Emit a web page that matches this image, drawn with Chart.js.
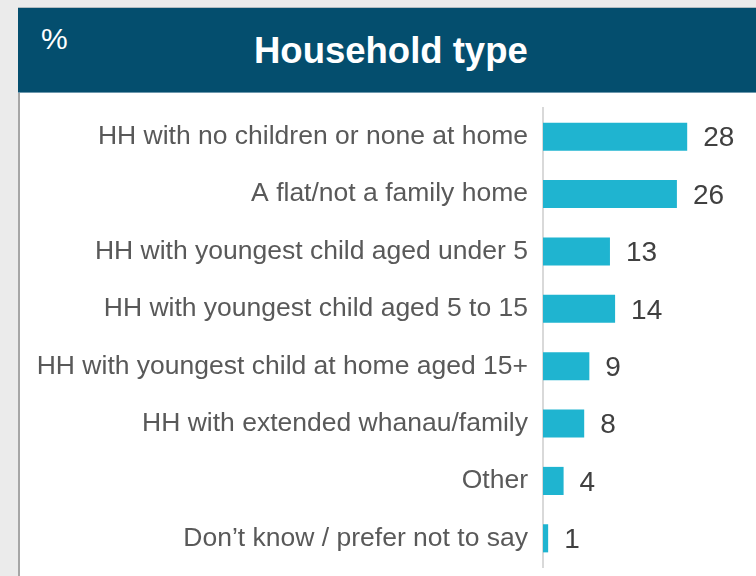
<!DOCTYPE html>
<html>
<head>
<meta charset="utf-8">
<script src="https://cdn.jsdelivr.net/npm/chart.js@4.4.1/dist/chart.umd.min.js"></script>
<style>
    html, body { margin: 0; padding: 0; }
    body {
        width: 756px; height: 576px; overflow: hidden;
        background: #ebebeb; position: relative;
        font-family: "Liberation Sans", Arial, sans-serif;
    }
    .header {
        position: absolute; left: 18px; top: 7px; width: 738px; height: 84px;
        background: #044e6e;
        border-top: 1px solid #b3bcc1;
        border-bottom: 1px solid #6d98ad;
    }
    .pct {
        position: absolute; left: 23px; top: 16px;
        font-size: 30px; line-height: 30px; color: #fff;
    }
    .title {
        position: absolute; left: 236px; top: 25px;
        font-size: 36.5px; line-height: 36px; font-weight: bold; color: #fff;
    }
    .panel {
        position: absolute; left: 18px; top: 93px; width: 738px; height: 483px;
        background: #fff; border-left: 2px solid #a6a6a6; box-sizing: border-box;
    }
    .chart-box { position: absolute; left: 20px; top: 93px; width: 736px; height: 483px; }
</style>
</head>
<body>
<div class="header">
    <span class="pct">%</span>
    <span class="title">Household type</span>
</div>
<div class="panel"></div>
<div class="chart-box"><canvas id="chart"></canvas></div>

<script>
// Household type, % of respondents
const categories = [
    'HH with no children or none at home',
    'A flat/not a family home',
    'HH with youngest child aged under 5',
    'HH with youngest child aged 5 to 15',
    'HH with youngest child at home aged 15+',
    'HH with extended whanau/family',
    'Other',
    'Don’t know / prefer not to say'
];
const values = [28, 26, 13, 14, 9, 8, 4, 1];

// draws the number at the end of each bar
const valueLabels = {
    id: 'valueLabels',
    afterDatasetsDraw(chart) {
        const ctx = chart.ctx;
        const meta = chart.getDatasetMeta(0);
        ctx.save();
        ctx.font = '28px "Liberation Sans", Arial, sans-serif';
        ctx.fillStyle = '#404040';
        ctx.textAlign = 'left';
        ctx.textBaseline = 'middle';
        meta.data.forEach((bar, i) => {
            ctx.fillText(values[i], bar.x + 16, bar.y + 2);
        });
        ctx.restore();
    }
};

new Chart(document.getElementById('chart'), {
    type: 'bar',
    data: {
        labels: categories,
        datasets: [{
            data: values,
            backgroundColor: '#1fb4d0',
            borderWidth: 0,
            categoryPercentage: 1,
            barPercentage: 0.49
        }]
    },
    options: {
        indexAxis: 'y',
        responsive: true,
        maintainAspectRatio: false,
        animation: false,
        layout: { padding: { top: 15, bottom: 9, right: 7, left: 0 } },
        plugins: { legend: { display: false }, tooltip: { enabled: false } },
        scales: {
            x: { display: false, min: 0, max: 40 },
            y: {
                grid: { display: false, drawTicks: false },
                border: { display: true, color: '#d9d9d9', width: 2 },
                ticks: {
                    color: '#595959',
                    padding: 15,
                    font: { family: '"Liberation Sans", Arial, sans-serif', size: 26.5 }
                },
                afterFit(scale) {
                    scale.width = 523;
                    scale.paddingTop = 0;
                    scale.paddingBottom = 0;
                }
            }
        }
    },
    plugins: [valueLabels]
});
</script>
</body>
</html>
